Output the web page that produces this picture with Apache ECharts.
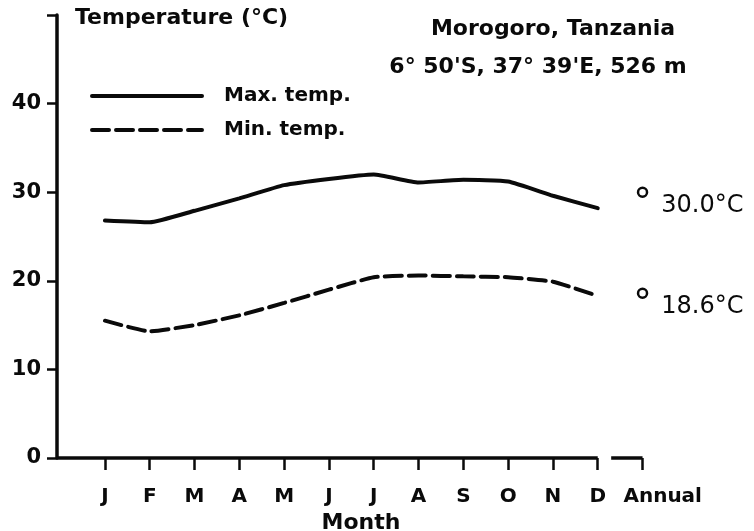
<!DOCTYPE html>
<html>
<head>
<meta charset="utf-8">
<script src="https://cdn.jsdelivr.net/npm/echarts@6/dist/echarts.min.js"></script>
<style>html,body{margin:0;padding:0;background:#fff}#c{width:754px;height:531px}</style>
</head>
<body>
<div id="c"></div>
<script>
// ---- data ----
const months = ['J','F','M','A','M','J','J','A','S','O','N','D'];
const annualLabel = 'Annual';
const maxTemp = [26.8, 26.6, 27.9, 29.3, 30.8, 31.5, 32.0, 31.1, 31.4, 31.2, 29.6, 28.2];
const minTemp = [15.5, 14.3, 15.0, 16.1, 17.5, 19.0, 20.4, 20.6, 20.5, 20.4, 19.9, 18.3];
const annualMax = 30.0;
const annualMin = 18.6;
const yTicks = [0, 10, 20, 30, 40];
const titleLines = ['Morogoro, Tanzania', "6° 50'S, 37° 39'E, 526 m"];

const FONT = 'DejaVu Sans';
const INK = '#0a0a0a';
const ANNUAL_X = months.length;          // category index of "Annual"
const X_MIN = -1.07, X_MAX = 12.5;

const chart = echarts.init(document.getElementById('c'), null, {renderer: 'canvas'});
const tickVals = months.map((m, i) => i).concat([ANNUAL_X]);
const labelVals = months.map((m, i) => i).concat([ANNUAL_X + 0.45]);
const titleStyle = {fontFamily: FONT, fontWeight: 'bold', fontSize: 22, color: INK};

chart.setOption({
  animation: false,
  backgroundColor: '#fff',
  title: [
    {text: titleLines[0], left: 553, top: 18, textAlign: 'center', padding: 0, textStyle: titleStyle},
    {text: titleLines[1], left: 538, top: 56, textAlign: 'center', padding: 0, textStyle: titleStyle}
  ],
  legend: {
    orient: 'vertical', left: 90, top: 86, padding: 0,
    itemWidth: 110, itemHeight: 14, itemGap: 14,
    data: ['Max. temp.', 'Min. temp.'],
    itemStyle: {opacity: 0},
    lineStyle: {width: 4},
    textStyle: {fontFamily: FONT, fontWeight: 'bold', fontSize: 20, color: INK, padding: [8, 0, 0, 17]}
  },
  grid: {left: 57, top: 15, bottom: 73, width: (X_MAX - X_MIN) * 44.8, outerBoundsMode: 'none'},
  xAxis: {
    type: 'value', min: X_MIN, max: X_MAX,
    axisLine: {show: false},
    splitLine: {show: false},
    axisTick: {show: true, customValues: tickVals, length: 12, lineStyle: {color: INK, width: 2.5}},
    axisLabel: {
      customValues: labelVals, margin: 29,
      fontFamily: FONT, fontWeight: 'bold', fontSize: 20, color: INK,
      formatter: v => (v > months.length - 0.5 ? annualLabel : months[Math.round(v)])
    },
    name: 'Month', nameLocation: 'middle', nameGap: 52,
    nameTextStyle: {fontFamily: FONT, fontWeight: 'bold', fontSize: 22, color: INK}
  },
  yAxis: {
    type: 'value', min: 0, max: 50, interval: 10,
    splitLine: {show: false},
    axisLine: {show: true, onZero: false, lineStyle: {color: INK, width: 3.5}},
    axisTick: {show: true, length: 10, lineStyle: {color: INK, width: 2.5}},
    axisLabel: {
      margin: 16, fontFamily: FONT, fontWeight: 'bold', fontSize: 21, color: INK,
      formatter: v => (yTicks.indexOf(v) >= 0 ? String(v) : '')
    },
    name: 'Temperature (°C)', nameLocation: 'end', nameGap: -3,
    nameTextStyle: {fontFamily: FONT, fontWeight: 'bold', fontSize: 22, color: INK,
      align: 'left', verticalAlign: 'middle', padding: [0, 0, 0, 18]}
  },
  series: [
    {
      name: 'Max. temp.', type: 'line', symbol: 'none', smooth: 0.15,
      data: months.map((m, i) => [i, maxTemp[i]]),
      lineStyle: {color: INK, width: 4, cap: 'round'},
      itemStyle: {color: INK},
      markLine: {
        silent: true, symbol: ['none', 'none'], animation: false,
        label: {show: false},
        lineStyle: {color: INK, width: 3.5, type: 'solid'},
        data: [
          [{coord: [X_MIN, 0]}, {coord: [months.length - 1, 0]}],
          [{coord: [months.length - 0.7, 0]}, {coord: [ANNUAL_X, 0]}]
        ]
      }
    },
    {
      name: 'Min. temp.', type: 'line', symbol: 'none', smooth: 0.15,
      data: months.map((m, i) => [i, minTemp[i]]),
      lineStyle: {color: INK, width: 4, type: [17, 7], cap: 'round'},
      itemStyle: {color: INK}
    },
    {
      name: 'Annual', type: 'scatter', symbol: 'circle', symbolSize: 9,
      data: [[ANNUAL_X, annualMax], [ANNUAL_X, annualMin]],
      itemStyle: {color: '#fff', borderColor: INK, borderWidth: 2.5, opacity: 1},
      label: {
        show: true, position: 'right', distance: 13, offset: [0, 14],
        fontFamily: FONT, fontSize: 24, color: INK,
        formatter: p => p.value[1].toFixed(1) + '°C'
      }
    }
  ]
});
</script>
</body>
</html>
